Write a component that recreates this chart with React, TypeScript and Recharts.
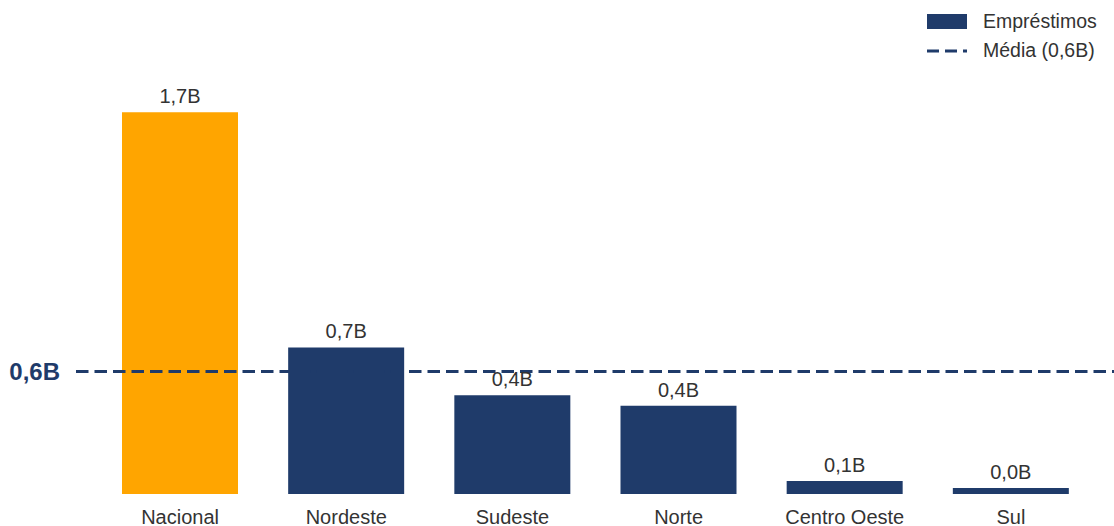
import React from 'react';
import { BarChart, Bar, XAxis, YAxis, Cell, LabelList, ReferenceLine, Legend } from 'recharts';

const categories = ['Nacional', 'Nordeste', 'Sudeste', 'Norte', 'Centro Oeste', 'Sul'];
const emprestimos = [1.72, 0.66, 0.445, 0.398, 0.059, 0.027];

const NAVY = '#1f3b6a';
const ORANGE = '#ffa500';
const FONT = '"Liberation Sans", Arial, sans-serif';

const data = categories.map((name, i) => ({ name, value: emprestimos[i] }));
const media = emprestimos.reduce((a, b) => a + b, 0) / emprestimos.length;

const fmt = (v: number) => v.toFixed(1).replace('.', ',') + 'B';

const LegendBox: React.FC = () => (
  <div style={{ fontFamily: FONT, fontSize: 19.5, color: '#333' }}>
    <div style={{ display: 'flex', alignItems: 'center', height: 29 }}>
      <div style={{ width: 40, height: 15, background: NAVY }} />
      <span style={{ marginLeft: 16 }}>Empréstimos</span>
    </div>
    <div style={{ display: 'flex', alignItems: 'center', height: 29 }}>
      <svg width={40} height={4}>
        <line x1={0} y1={2} x2={40} y2={2} stroke={NAVY} strokeWidth={3} strokeDasharray="12 6" />
      </svg>
      <span style={{ marginLeft: 16 }}>Média ({fmt(media)})</span>
    </div>
  </div>
);

const App: React.FC = () => {
  return (
    <div style={{ position: 'absolute', left: 0, top: 0 }}>
      <BarChart width={1114} height={526} data={data} margin={{ top: 50, right: 0, bottom: 0, left: 76 }}>
        <XAxis
          dataKey="name"
          axisLine={false}
          tickLine={false}
          height={32}
          tickMargin={10}
          padding={{ left: 21, right: 20 }}
          tick={{ fill: '#333', fontSize: 20, fontFamily: FONT }}
          interval={0}
        />
        <YAxis hide domain={[0, 2]} />
        <Legend
          layout="horizontal"
          verticalAlign="middle"
          align="center"
          content={() => <LegendBox />}
          wrapperStyle={{ left: 927, top: 7, width: 185 }}
        />
        <Bar dataKey="value" barSize={116} isAnimationActive={false}>
          {data.map((d, i) => (
            <Cell key={d.name} fill={i === 0 ? ORANGE : NAVY} />
          ))}
          <LabelList
            dataKey="value"
            position="top"
            offset={9}
            formatter={(v: any) => fmt(Number(v))}
            style={{ fill: '#333', fontSize: 20, fontFamily: FONT }}
          />
        </Bar>
        <ReferenceLine
          y={media}
          stroke={NAVY}
          strokeWidth={3}
          strokeDasharray="12.5 6"
          label={{
            value: fmt(media),
            position: 'left',
            offset: 16,
            fill: NAVY,
            fontSize: 24,
            fontWeight: 'bold',
            fontFamily: FONT,
          }}
        />
      </BarChart>
    </div>
  );
};

export default App;
